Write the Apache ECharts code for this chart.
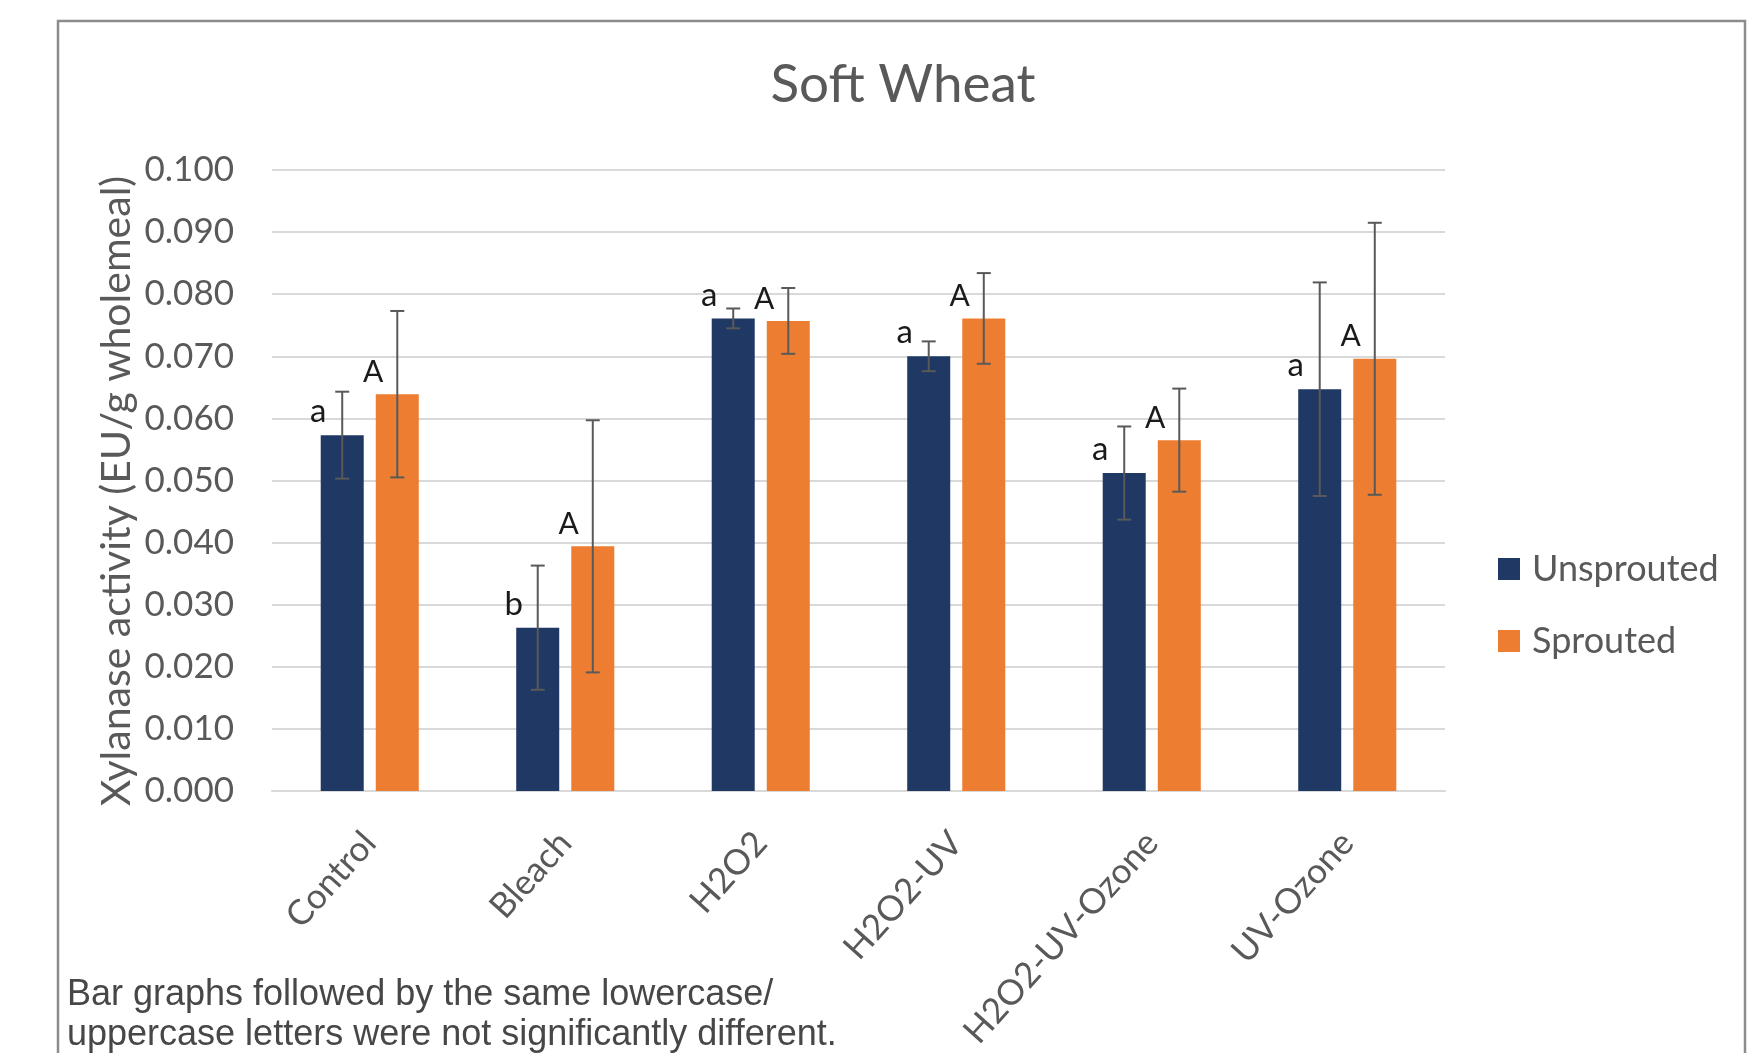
<!DOCTYPE html>
<html>
<head>
<meta charset="utf-8">
<title>Soft Wheat – Xylanase activity</title>
<script src="https://cdn.jsdelivr.net/npm/echarts@6/dist/echarts.min.js"></script>
<style>
  html, body { margin: 0; padding: 0; background: #ffffff; }
  #chart { width: 1756px; height: 1053px; }
</style>
</head>
<body>
<div id="chart"></div>
<script>
// Treatments along the x axis
const categories = ['Control', 'Bleach', 'H2O2', 'H2O2-UV', 'H2O2-UV-Ozone', 'UV-Ozone'];

// Mean xylanase activity (EU/g wholemeal)
const unsprouted = [0.0573, 0.0263, 0.0761, 0.0700, 0.0512, 0.0647];
const sprouted   = [0.0639, 0.0394, 0.0757, 0.0761, 0.0565, 0.0696];

// Error bar half-widths (±)
const unsproutedErr = [0.0070, 0.0100, 0.0016, 0.0024, 0.0075, 0.0172];
const sproutedErr   = [0.0134, 0.0203, 0.0053, 0.0073, 0.0083, 0.0219];

// Significance letters
const unsproutedLetters = ['a', 'b', 'a', 'a', 'a', 'a'];
const sproutedLetters   = ['A', 'A', 'A', 'A', 'A', 'A'];

// Y axis ticks
const yMin = 0, yMax = 0.1, yStep = 0.01;

const BLUE = '#203864';
const ORANGE = '#ED7D31';
const GREY_TEXT = '#595959';
const FONT = 'Lato, "Open Sans", sans-serif';

const BAR_W = 0.22;   // bar width as share of category band
const BAR_GAP = 0.28; // gap between the two bars as share of bar width

function errorBarRenderer(sign) {
  return function (params, api) {
    const cat = api.value(0);
    const mean = api.value(1);
    const err = api.value(2);
    const band = api.size([1, 0])[0];
    const bw = band * BAR_W;
    const off = sign * (bw + bw * BAR_GAP) / 2;
    const hi = api.coord([cat, mean + err]);
    const lo = api.coord([cat, mean - err]);
    const x = hi[0] + off;
    const cap = 7;
    const style = { stroke: GREY_TEXT, lineWidth: 2 };
    return {
      type: 'group',
      children: [
        { type: 'line', shape: { x1: x, y1: hi[1], x2: x, y2: lo[1] }, style },
        { type: 'line', shape: { x1: x - cap, y1: hi[1], x2: x + cap, y2: hi[1] }, style },
        { type: 'line', shape: { x1: x - cap, y1: lo[1], x2: x + cap, y2: lo[1] }, style }
      ]
    };
  };
}

const letterLabel = (letters, size) => ({
  show: true,
  position: 'top',
  distance: 0,
  offset: [-24, -7],
  fontFamily: FONT,
  fontSize: size,
  color: '#1a1a1a',
  formatter: (p) => letters[p.dataIndex]
});

const chart = echarts.init(document.getElementById('chart'), null, { renderer: 'canvas' });

chart.setOption({
  backgroundColor: '#ffffff',
  animation: false,
  textStyle: { fontFamily: FONT },
  title: {
    text: 'Soft Wheat',
    left: 898,
    textAlign: 'center',
    top: 53,
    textStyle: { fontFamily: FONT, fontSize: 53, fontWeight: 'normal', color: GREY_TEXT }
  },
  legend: {
    orient: 'vertical',
    left: 1498,
    top: 551,
    itemWidth: 22,
    itemHeight: 22,
    itemGap: 36,
    padding: 0,
    icon: 'rect',
    textStyle: { fontFamily: FONT, fontSize: 36, color: GREY_TEXT, padding: [0, 0, 0, 7] },
    data: ['Unsprouted', 'Sprouted']
  },
  grid: { left: 272, right: 311, top: 170, bottom: 262, containLabel: false },
  xAxis: {
    type: 'category',
    data: categories,
    axisLine: { show: true, lineStyle: { color: '#d9d9d9', width: 2 } },
    axisTick: { show: false },
    axisLabel: {
      interval: 0,
      rotate: 48,
      margin: 46,
      fontFamily: FONT,
      fontSize: 35,
      color: GREY_TEXT
    },
    splitLine: { show: false }
  },
  yAxis: {
    type: 'value',
    min: yMin,
    max: yMax,
    interval: yStep,
    axisLine: { show: false },
    axisTick: { show: false },
    axisLabel: {
      margin: 38,
      fontFamily: FONT,
      fontSize: 35,
      color: GREY_TEXT,
      formatter: (v) => v.toFixed(3)
    },
    splitLine: { lineStyle: { color: '#d9d9d9', width: 2 } }
  },
  graphic: [
    {
      // outer frame of the figure panel
      type: 'rect',
      z: -1,
      shape: { x: 58, y: 21, width: 1687, height: 1100 },
      style: { fill: 'none', stroke: '#8c8c8c', lineWidth: 2.5 }
    },
    {
      type: 'text',
      x: 117,
      y: 491,
      rotation: Math.PI / 2,
      style: {
        text: 'Xylanase activity (EU/g wholemeal)',
        fontFamily: FONT,
        fontSize: 41,
        fill: GREY_TEXT,
        align: 'center',
        verticalAlign: 'middle'
      }
    },
    {
      type: 'text',
      x: 67,
      y: 995,
      style: {
        text: 'Bar graphs followed by the same lowercase/',
        fontFamily: '"Liberation Sans", Arial, sans-serif',
        fontSize: 36,
        fill: '#474747',
        align: 'left',
        verticalAlign: 'middle'
      }
    },
    {
      type: 'text',
      x: 67,
      y: 1035,
      style: {
        text: 'uppercase letters were not significantly different.',
        fontFamily: '"Liberation Sans", Arial, sans-serif',
        fontSize: 36,
        fill: '#474747',
        align: 'left',
        verticalAlign: 'middle'
      }
    }
  ],
  series: [
    {
      name: 'Unsprouted',
      type: 'bar',
      data: unsprouted,
      barWidth: (BAR_W * 100) + '%',
      barGap: (BAR_GAP * 100) + '%',
      itemStyle: { color: BLUE },
      label: letterLabel(unsproutedLetters, 33),
      z: 2
    },
    {
      name: 'Sprouted',
      type: 'bar',
      data: sprouted,
      barWidth: (BAR_W * 100) + '%',
      barGap: (BAR_GAP * 100) + '%',
      itemStyle: { color: ORANGE },
      label: letterLabel(sproutedLetters, 30),
      z: 2
    },
    {
      name: 'Unsprouted error',
      type: 'custom',
      renderItem: errorBarRenderer(-1),
      data: unsprouted.map((v, i) => [i, v, unsproutedErr[i]]),
      encode: { x: 0, y: 1 },
      z: 5,
      silent: true
    },
    {
      name: 'Sprouted error',
      type: 'custom',
      renderItem: errorBarRenderer(1),
      data: sprouted.map((v, i) => [i, v, sproutedErr[i]]),
      encode: { x: 0, y: 1 },
      z: 5,
      silent: true
    }
  ]
});
</script>
</body>
</html>
